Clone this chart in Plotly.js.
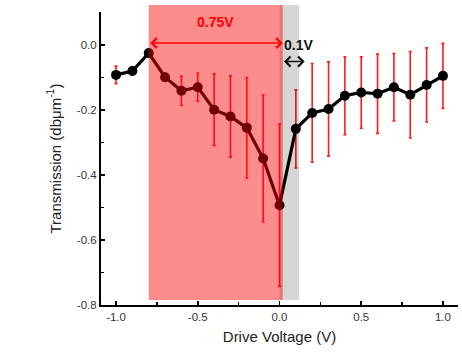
<!DOCTYPE html>
<html><head><meta charset="utf-8">
<script src="https://cdn.plot.ly/plotly-3.0.1.min.js"></script>
<style>html,body{margin:0;padding:0;background:#fff}</style>
</head><body><div id="chart" style="width:462px;height:354px"></div>
<script>
const voltage = [-1.0,-0.9,-0.8,-0.7,-0.6,-0.5,-0.4,-0.3,-0.2,-0.1,0.0,0.1,0.2,0.3,0.4,0.5,0.6,0.7,0.8,0.9,1.0];
const transmission = [-0.092,-0.080,-0.025,-0.099,-0.141,-0.130,-0.199,-0.220,-0.255,-0.349,-0.493,-0.258,-0.209,-0.197,-0.156,-0.146,-0.150,-0.130,-0.153,-0.123,-0.095];
const errorBars = [0.027,0.012,0.008,0.012,0.045,0.043,0.11,0.125,0.155,0.195,0.25,0.12,0.152,0.145,0.12,0.11,0.122,0.104,0.133,0.114,0.1];
const redRegion = [-0.8, 0.02];
const grayRegion = [0.0, 0.12];
const redLabel = '0.75V';
const grayLabel = '0.1V';

const trace = {
  x: voltage, y: transmission, type: 'scatter', mode: 'lines+markers',
  line: {color: '#000', width: 3.2},
  marker: {color: '#000', size: 10},
  error_y: {type: 'data', array: errorBars, visible: true, color: '#ff1a1a', thickness: 1.6, width: 1.5},
  showlegend: false
};

const axisFont = {family: 'Liberation Sans, Arial, sans-serif', size: 11.5, color: '#333'};
const layout = {
  width: 462, height: 354,
  margin: {l: 101, r: 4, t: 12, b: 49},
  paper_bgcolor: '#fff', plot_bgcolor: '#fff',
  font: {family: 'Liberation Sans, Arial, sans-serif'},
  xaxis: {
    range: [-1.092, 1.092], tickvals: [-1.0,-0.5,0.0,0.5,1.0], ticktext: ['-1.0','-0.5','0.0','0.5','1.0'],
    ticks: 'inside', ticklen: 4, tickwidth: 1.5, tickcolor: '#000',
    minor: {tickvals: [-0.75,-0.25,0.25,0.75], ticks: 'inside', ticklen: 3, tickcolor: '#000', tickwidth: 1.5},
    showline: true, linecolor: '#000', linewidth: 2, showgrid: false, zeroline: false,
    tickfont: axisFont,
    title: {text: 'Drive Voltage (V)', font: {size: 15, color: '#222'}, standoff: 10}
  },
  yaxis: {
    range: [-0.8, 0.1015], tickvals: [-0.8,-0.6,-0.4,-0.2,0.0], ticktext: ['-0.8','-0.6','-0.4','-0.2','0.0'],
    ticks: 'inside', ticklen: 4, tickwidth: 1.5, tickcolor: '#000',
    minor: {tickvals: [-0.7,-0.5,-0.3,-0.1], ticks: 'inside', ticklen: 3, tickcolor: '#000', tickwidth: 1.5},
    showline: true, linecolor: '#000', linewidth: 2, showgrid: false, zeroline: false,
    tickfont: axisFont,
    title: {text: 'Transmission (dbμm<sup>-1</sup>)', font: {size: 15, color: '#222'}, standoff: 12}
  },
  shapes: [
    {type: 'rect', xref: 'x', yref: 'paper', x0: grayRegion[0], x1: grayRegion[1], y0: 0.017, y1: 1.024,
     fillcolor: 'rgba(0,0,0,0.16)', line: {width: 0}, layer: 'above'},
    {type: 'rect', xref: 'x', yref: 'paper', x0: redRegion[0], x1: redRegion[1], y0: 0.017, y1: 1.024,
     fillcolor: 'rgba(255,0,0,0.45)', line: {width: 0}, layer: 'above'}
  ],
  annotations: [
    {x: (redRegion[0]+redRegion[1])/2, y: 0.07, xref: 'x', yref: 'y', text: '<b>' + redLabel + '</b>', showarrow: false,
     font: {size: 14, color: '#ff0000'}},
    {x: redRegion[1], y: 0.006, ax: redRegion[0], ay: 0.006, xref: 'x', yref: 'y', axref: 'x', ayref: 'y',
     text: '', showarrow: true, arrowside: 'end+start', arrowhead: 4, arrowsize: 1.3, arrowwidth: 1.5, arrowcolor: '#ff0000'},
    {x: 0.115, y: 0.0, xref: 'x', yref: 'y', text: '<b>' + grayLabel + '</b>', showarrow: false,
     font: {size: 14, color: '#111'}},
    {x: 0.154, y: -0.051, ax: 0.018, ay: -0.051, xref: 'x', yref: 'y', axref: 'x', ayref: 'y',
     text: '', showarrow: true, arrowside: 'end+start', arrowhead: 4, arrowsize: 1.3, arrowwidth: 1.5, arrowcolor: '#111'}
  ]
};
Plotly.newPlot('chart', [trace], layout, {displayModeBar: false, staticPlot: true});
</script></body></html>
